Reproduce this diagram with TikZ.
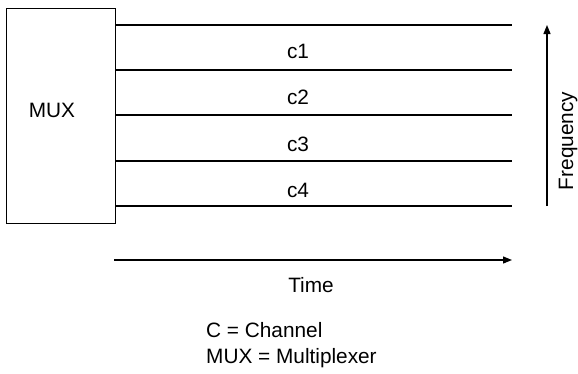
\documentclass[tikz,border=0pt]{standalone}
\usepackage{fontspec}
\setmainfont{Liberation Sans}
\usetikzlibrary{arrows.meta}
\begin{document}
\begin{tikzpicture}[x=1pt,y=-1pt,
  every node/.style={font=\fontsize{20.8}{24}\selectfont, inner sep=0pt, anchor=base},
  band/.style={line width=1.2pt},
  axis/.style={line width=1.2pt,-{Triangle[length=9pt,width=7pt]}}]
\useasboundingbox (0,0) rectangle (578,373);
% multiplexer block
\node[draw, line width=1pt, minimum width=109pt, minimum height=215pt, anchor=north west] (mux) at (6,8) {};
\node (muxlabel) at (52,117) {MUX};
% channel boundaries
\foreach \i/\y in {0/25,1/70,2/115,3/161,4/206}{
  \coordinate (l\i) at (115,\y);
  \coordinate (r\i) at (512,\y);
  \draw[band] (l\i) -- (r\i);
}
% channel labels
\node (c1) at (298,58) {c1};
\node (c2) at (298,104) {c2};
\node (c3) at (298,151) {c3};
\node (c4) at (298,197) {c4};
% frequency axis
\coordinate (fb) at (547,206);
\coordinate (ft) at (547,25);
\draw[axis] (fb) -- (ft);
\node[rotate=90] (freq) at (573,141) {Frequency};
% time axis
\coordinate (ts) at (114,260);
\coordinate (te) at (512,260);
\draw[axis] (ts) -- (te);
\node (time) at (311,292) {Time};
% legend
\node[anchor=base west] (leg1) at (206,337) {C = Channel};
\node[anchor=base west] (leg2) at (206,363) {MUX = Multiplexer};
\end{tikzpicture}
\end{document}
